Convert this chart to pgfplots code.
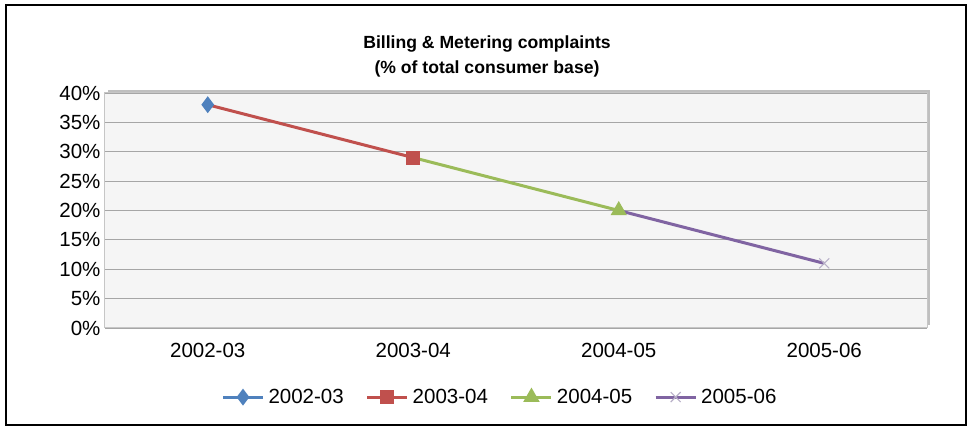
\documentclass[border=0pt]{standalone}
\usepackage{fontspec}
\setmainfont{Liberation Sans}
\usepackage{pgfplots}
\pgfplotsset{compat=1.18}
\usetikzlibrary{shadows}
\definecolor{cblue}{HTML}{4F81BD}
\definecolor{cred}{HTML}{C0504D}
\definecolor{cgreen}{HTML}{9BBB59}
\definecolor{cpurple}{HTML}{8064A2}
\definecolor{cx}{HTML}{B8B0C8}
\begin{document}
\begin{tikzpicture}
\path[use as bounding box] (-105pt,-102pt) rectangle (867pt,328pt);
\begin{axis}[
  at={(0pt,0pt)}, anchor=south west,
  scale only axis, width=822pt, height=235pt,
  xmin=-0.5, xmax=3.5, ymin=0, ymax=40,
  xtick={0,1,2,3}, xticklabels={2002-03,2003-04,2004-05,2005-06},
  ytick={0,5,...,40},
  yticklabel={\pgfmathprintnumber{\tick}\%},
  /pgf/number format/assume math mode=true,
  tick label style={font=\fontsize{20.5}{23}\selectfont},
  xticklabel style={yshift=-12pt},
  yticklabel style={xshift=-1pt},
  major tick length=0pt,
  ymajorgrids, grid style={draw=gray!70, line width=1.1pt},
  axis line style={draw=gray!45, line width=1pt},
  axis background/.style={fill=gray!8, drop shadow={shadow xshift=3pt, shadow yshift=3pt, opacity=0.5}},
  legend columns=4,
  legend style={at={(0.4805,-0.294)}, anchor=center, draw=none, fill=none,
    font=\fontsize{20.5}{23}\selectfont,
    /tikz/every odd column/.append style={column sep=2pt},
    /tikz/every even column/.append style={column sep=20pt}},
  legend image code/.code={\draw[mark repeat=2,mark phase=2] plot coordinates {(0pt,0pt)(20pt,0pt)(40pt,0pt)};},
  clip=false,
]
\addplot[cblue, line width=3pt, mark=diamond*, mark size=6pt, mark options={solid, fill=cblue}]
  coordinates {(0,38)};
\addlegendentry{2002-03}
\addplot[cred, line width=3pt, mark=square*, mark size=5.5pt, mark indices={2}, mark options={fill=cred}]
  coordinates {(0,38) (1,29)};
\addlegendentry{2003-04}
\addplot[cgreen, line width=3pt, mark=triangle*, mark size=6.5pt, mark indices={2}, mark options={fill=cgreen}]
  coordinates {(1,29) (2,20)};
\addlegendentry{2004-05}
\addplot[cpurple, line width=3pt, mark=x, mark size=7pt, mark indices={2}, mark options={draw=cx, line width=1.2pt}]
  coordinates {(2,20) (3,11)};
\addlegendentry{2005-06}
\end{axis}
\node[align=center, font=\fontsize{17.6}{25}\selectfont\bfseries] at (382pt,272pt)
  {Billing \& Metering complaints\\(\% of total consumer base)};
\draw[line width=2.5pt] (-99pt,-97pt) rectangle (861pt,323pt);
\end{tikzpicture}
\end{document}
